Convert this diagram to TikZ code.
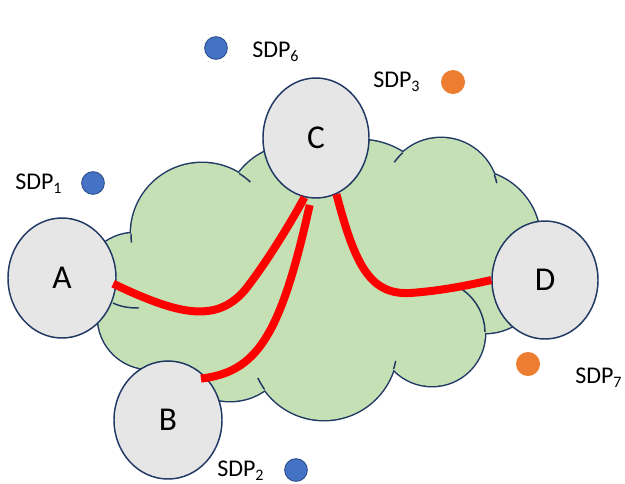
\documentclass[tikz,border=0pt]{standalone}
\usepackage{fontspec}
\setmainfont{Carlito}
\usetikzlibrary{shapes.geometric,calc}
\definecolor{cloudfill}{HTML}{C5E0B4}
\definecolor{navy}{HTML}{203864}
\definecolor{nodegrey}{HTML}{E7E6E6}
\definecolor{dotblue}{HTML}{4472C4}
\definecolor{dotblueline}{HTML}{2F528F}
\definecolor{dotorange}{HTML}{ED7D31}
\newcommand\sdpsub[1]{\raisebox{-3.7pt}{\fontsize{12}{12}\selectfont #1}}
\begin{document}
\begin{tikzpicture}[x=0.75pt,y=-0.75pt,
  site/.style={ellipse, draw=navy, line width=1.1pt, fill=nodegrey, inner sep=0pt,
               font=\fontsize{25}{25}\selectfont},
  link/.style={draw=red, line width=6pt},
  bluedot/.style={circle, fill=dotblue, draw=dotblueline, line width=0.7pt,
                  minimum size=17pt, inner sep=0pt},
  orangedot/.style={circle, fill=dotorange, minimum size=18pt, inner sep=0pt},
  sdp/.style={anchor=base west, inner sep=0pt, font=\fontsize{18}{18}\selectfont},
  puffline/.style={draw=navy, line width=1.1pt},
]
\useasboundingbox (0,0) rectangle (625,483);
\fill[white] (0,0) rectangle (625,483);

% cloud: union of puffs, outlined by drawing a double-width stroke under the fill
\foreach \cx/\cy/\r in {135/285/52, 202/234/71, 295/215/70, 360/220/80, 441/195/57,
                        470/240/70, 485/275/58, 432/333/53, 324/347/73, 230/340/61, 150/317/52}
  \draw[navy, line width=2.2pt] (\cx,\cy) circle[radius=\r];
\foreach \cx/\cy/\r in {135/285/52, 202/234/71, 295/215/70, 360/220/80, 441/195/57,
                        470/240/70, 485/275/58, 432/333/53, 324/347/73, 230/340/61, 150/317/52}
  \fill[cloudfill] (\cx,\cy) circle[radius=\r];
% body of the cloud between the puffs
\fill[cloudfill] (140,250) -- (300,200) -- (450,220) -- (470,300) -- (420,350)
                 -- (330,370) -- (250,360) -- (150,330) -- cycle;

% short inner arcs where the puffs meet
\foreach \cx/\cy/\r/\ta/\tb in {202/234/71/173/180.5, 202/234/71/-58.5/-47,
                                441/195/57/-145/-132, 441/195/57/-21/-12,
                                432/333/53/-62/-1, 324/347/73/11/17.5,
                                324/347/73/144.5/155}
  \draw[puffline] plot[domain=\ta:\tb, samples=10, smooth] ({\cx+\r*cos(\x)},{\cy+\r*sin(\x)});
\draw[puffline] (113,303) .. controls (121,307) and (130,308) .. (139,308);

% sites
\node[site, minimum width=108*0.75pt, minimum height=120*0.75pt] (A) at (62,278) {A};
\node[site, minimum width=108*0.75pt, minimum height=118*0.75pt] (B) at (168,420) {B};
\node[site, minimum width=106*0.75pt, minimum height=120*0.75pt] (C) at (316,138) {C};
\node[site, minimum width=106*0.75pt, minimum height=118*0.75pt] (D) at (545,280) {D};

% links
\draw[link] ([xshift=-2.5pt]A.-6) .. controls (175,313) and (215,325) .. (245,290)
            .. controls (270,258) and (295,215) .. (C.259);
\draw[link] ([shift={(-3pt,-2pt)}]B.50) .. controls (255,372) and (280,340) .. ([yshift=-5pt]C.264);
\draw[link] (C.290) .. controls (355,265) and (370,295) .. (410,293)
            .. controls (440,291) and (470,285) .. (D.180);

% SDPs
\node[bluedot] (p6) at (216,48) {};
\node[sdp] (t6) at (252,57) {SDP\sdpsub{6}};
\node[bluedot] (p1) at (93,183) {};
\node[sdp] (t1) at (15,189) {SDP\sdpsub{1}};
\node[orangedot] (p3) at (453,82) {};
\node[sdp] (t3) at (373,87) {SDP\sdpsub{3}};
\node[bluedot] (p2) at (296,470) {};
\node[sdp] (t2) at (217,476) {SDP\sdpsub{2}};
\node[orangedot] (p7) at (528,364) {};
\node[sdp] (t7) at (575,383) {SDP\sdpsub{7}};
\end{tikzpicture}
\end{document}
